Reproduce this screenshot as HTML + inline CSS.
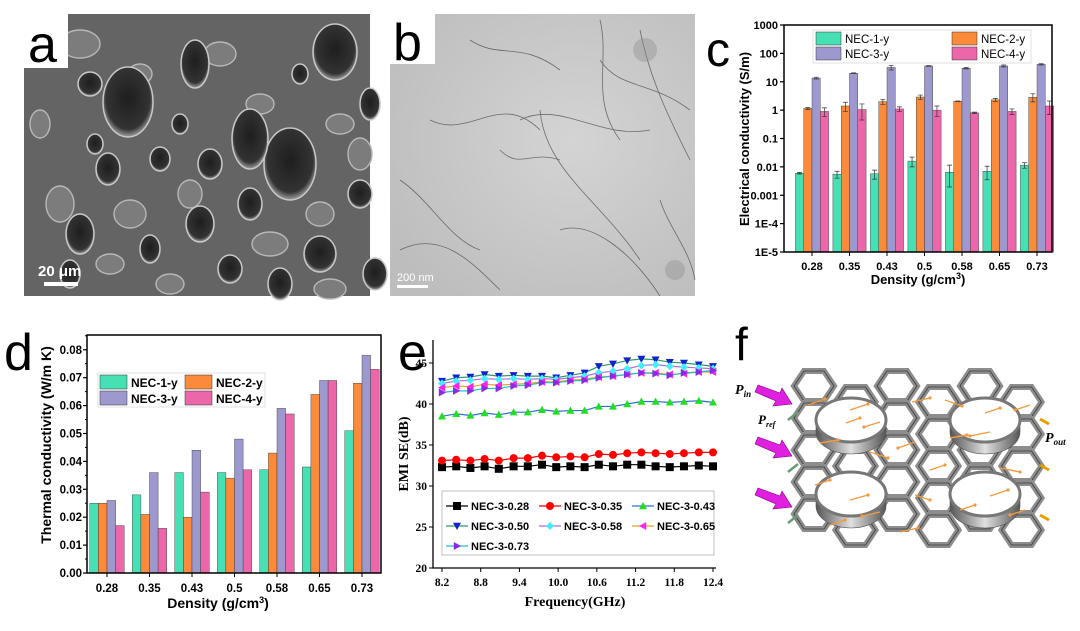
<!DOCTYPE html>
<html><head><meta charset="utf-8">
<style>
html,body{margin:0;padding:0;background:#fff;}
body{width:1080px;height:626px;overflow:hidden;font-family:"Liberation Sans",sans-serif;}
svg text{font-family:"Liberation Sans",sans-serif;}
svg text.serif{font-family:"Liberation Serif",serif;}
</style></head>
<body>
<svg id="fig" width="1080" height="626" viewBox="0 0 1080 626" xmlns="http://www.w3.org/2000/svg">
<defs>
<radialGradient id="pore" cx="50%" cy="45%" r="55%"><stop offset="0" stop-color="#1e1e1e"/><stop offset="0.8" stop-color="#333"/><stop offset="1" stop-color="#a0a0a0"/></radialGradient>
<radialGradient id="tem" cx="60%" cy="45%" r="70%"><stop offset="0" stop-color="#d4d4d4"/><stop offset="1" stop-color="#bdbdbd"/></radialGradient>
<linearGradient id="ring" x1="0" x2="1"><stop offset="0" stop-color="#555"/><stop offset="0.5" stop-color="#e0e0e0"/><stop offset="1" stop-color="#555"/></linearGradient>
</defs>

<g>
<rect x="24" y="14" width="346" height="282" fill="#646464"/>
<g id="pores"></g>
<rect x="24" y="14" width="44" height="54" fill="#fff"/>
<text x="28" y="62" font-size="52" fill="#000">a</text>
<text x="38" y="276" font-size="15" font-weight="bold" fill="#fff">20 μm</text>
<rect x="44" y="282" width="34" height="4" fill="#fff"/>
</g>

<g>
<rect x="390" y="14" width="305" height="282" fill="url(#tem)"/>
<g id="tubes" stroke="#444" stroke-width="0.8" fill="none" opacity="0.7"></g>
<rect x="390" y="14" width="45" height="50" fill="#fff"/>
<text x="393" y="60" font-size="52" fill="#000">b</text>
<text x="397" y="281" font-size="11" fill="#fff">200 nm</text>
<rect x="397" y="285" width="31" height="3" fill="#fff"/>
</g>

<text x="706" y="66" font-size="48" fill="#000">c</text>
<g id="chartC"></g>
<text x="4" y="370" font-size="52" fill="#000">d</text>
<g id="chartD"></g>
<text x="398" y="370" font-size="52" fill="#000">e</text>
<g id="chartE"></g>
<text x="735" y="360" font-size="46" fill="#000">f</text>
<g id="schem"></g>
</svg>

<script>
const NS="http://www.w3.org/2000/svg";
function mk(p,tag,a){const e=document.createElementNS(NS,tag);for(const k in a)e.setAttribute(k,a[k]);p.appendChild(e);return e;}

const densities=["0.28","0.35","0.43","0.5","0.58","0.65","0.73"];
const seriesNames=["NEC-1-y","NEC-2-y","NEC-3-y","NEC-4-y"];
const barColors=["#46e0b4","#fb8b3b","#9d99cf","#ec66aa"];
const ecNEC1=[0.006,0.0055,0.0057,0.016,0.0065,0.007,0.0115];
const ecNEC2=[1.15,1.4,2.0,2.9,2.05,2.3,2.85];
const ecNEC3=[13.5,20,32,36,30,36,41];
const ecNEC4=[0.9,1.05,1.1,1.0,0.8,0.9,1.4];
const ecErr1=[0.0004,0.0015,0.002,0.006,0.005,0.0035,0.0025];
const ecErr2=[0.1,0.5,0.4,0.5,0.05,0.3,0.9];
const ecErr3=[1,0.5,6,1,1.5,3,2];
const ecErr4=[0.3,0.6,0.2,0.4,0.05,0.2,0.7];
const cTicks=["1E-5","1E-4","0.001","0.01","0.1","1","10","100","1000"];
const tcNEC1=[0.025,0.028,0.036,0.036,0.037,0.038,0.051];
const tcNEC2=[0.025,0.021,0.020,0.034,0.043,0.064,0.068];
const tcNEC3=[0.026,0.036,0.044,0.048,0.059,0.069,0.078];
const tcNEC4=[0.017,0.016,0.029,0.037,0.057,0.069,0.073];
const dTicks=["0.00","0.01","0.02","0.03","0.04","0.05","0.06","0.07","0.08"];
const freqs=[8.2,8.42,8.64,8.86,9.08,9.31,9.53,9.75,9.97,10.19,10.41,10.63,10.85,11.07,11.29,11.51,11.73,11.95,12.18,12.4];
const se028=[32.3,32.4,32.2,32.4,32.1,32.4,32.4,32.6,32.3,32.4,32.3,32.6,32.4,32.6,32.6,32.4,32.3,32.4,32.5,32.4];
const se035=[33.1,33.2,33.1,33.3,33.1,33.4,33.4,33.7,33.5,33.6,33.5,33.9,33.8,34.0,34.1,34.0,33.9,34.0,34.1,34.1];
const se043=[38.5,38.8,38.6,38.9,38.7,39.0,39.0,39.3,39.1,39.2,39.2,39.7,39.7,40.0,40.3,40.3,40.2,40.3,40.4,40.2];
const se050=[42.8,43.2,43.3,43.6,43.4,43.5,43.4,43.4,43.2,43.5,43.8,44.6,44.9,45.3,45.5,45.4,45.1,45.0,44.8,44.6];
const se058=[42.5,42.8,42.9,43.1,43.0,43.1,43.0,43.1,43.0,43.2,43.4,43.8,44.0,44.3,44.7,44.8,44.6,44.5,44.4,44.3];
const se065=[42.0,42.2,42.1,42.4,42.3,42.4,42.5,42.7,42.7,42.9,43.0,43.3,43.4,43.6,43.8,43.8,43.6,43.7,43.9,43.9];
const se073=[41.4,41.6,41.6,41.9,41.9,42.2,42.3,42.6,42.6,42.8,42.9,43.2,43.4,43.6,43.8,43.7,43.5,43.8,43.9,44.1];
const eXTicks=["8.2","8.8","9.4","10.0","10.6","11.2","11.8","12.4"];
const eYTicks=["20","25","30","35","40","45"];
const eNames=["NEC-3-0.28","NEC-3-0.35","NEC-3-0.43","NEC-3-0.50","NEC-3-0.58","NEC-3-0.65","NEC-3-0.73"];

(function(){
const g=document.getElementById('chartC');
const L=784,R=1052,T=25,B=252;
const y=v=>B-(Math.log10(v)+5)/8*(B-T);
const gx=i=>812+i*37.5;
const bw=8.3;
const data=[ecNEC1,ecNEC2,ecNEC3,ecNEC4], errs=[ecErr1,ecErr2,ecErr3,ecErr4];
data.forEach((s,k)=>s.forEach((v,i)=>{
 const x=gx(i)+(k-2)*bw;
 const r=mk(g,'rect',{x:x,y:y(v),width:bw,height:B-y(v),fill:barColors[k],stroke:'#333','stroke-width':0.4});
 
 
 const e=errs[k][i],cx=x+bw/2,y1=y(v+e),y0=y(Math.max(v-e,v*0.3));
 mk(g,'path',{d:`M${cx-2.5},${y1}H${cx+2.5}M${cx},${y1}V${y0}M${cx-2.5},${y0}H${cx+2.5}`,stroke:'#333','stroke-width':0.7,fill:'none'});
}));
mk(g,'rect',{x:L,y:T,width:R-L,height:B-T,fill:'none',stroke:'#000','stroke-width':1.5});
cTicks.forEach((t,i)=>{const yy=B-i*(B-T)/8;
 mk(g,'line',{x1:L-4,x2:L,y1:yy,y2:yy,stroke:'#000','stroke-width':1.2});
 const tx=mk(g,'text',{x:L-6,y:yy+4,'font-size':11,'font-weight':'bold','text-anchor':'end'});tx.textContent=t;
 
 });
densities.forEach((d,i)=>{mk(g,'line',{x1:gx(i),x2:gx(i),y1:B,y2:B+4,stroke:'#000'});
 const tx=mk(g,'text',{x:gx(i),y:B+18,'font-size':11,'font-weight':'bold','text-anchor':'middle'});tx.textContent=d;
 
 });
const xt=mk(g,'text',{x:918,y:284,'font-size':13,'font-weight':'bold','text-anchor':'middle'});xt.innerHTML='Density (g/cm<tspan dy="-5" font-size="9">3</tspan><tspan dy="5">)</tspan>';


const yt=mk(g,'text',{x:0,y:0,'font-size':13,'font-weight':'bold','text-anchor':'middle',transform:'translate(749,139) rotate(-90)'});yt.textContent='Electrical conductivity (S/m)';


const lg=mk(g,'g',{});


mk(lg,'rect',{x:813,y:30,width:218,height:33,fill:'#fff',stroke:'#ccc','stroke-width':0.6});
const pos=[[816,32],[952,32],[816,47],[952,47]];
seriesNames.forEach((n,k)=>{mk(lg,'rect',{x:pos[k][0],y:pos[k][1],width:25,height:13,fill:barColors[k],stroke:'#333','stroke-width':0.5});
 const t=mk(lg,'text',{x:pos[k][0]+29,y:pos[k][1]+11,'font-size':11.5});t.textContent=n;
 
 });
})();

(function(){
const g=document.getElementById('chartD');
const L=87,R=381,T=335,B=573;
const y=v=>B-v/0.01*27.9;
const gx=i=>107+i*42.5;
const bw=8.6;
const data=[tcNEC1,tcNEC2,tcNEC3,tcNEC4];
data.forEach((s,k)=>s.forEach((v,i)=>{
 const x=gx(i)+(k-2)*bw;
 const r=mk(g,'rect',{x:x,y:y(v),width:bw,height:B-y(v),fill:barColors[k],stroke:'#333','stroke-width':0.4});
 
 
}));
mk(g,'rect',{x:L,y:T,width:R-L,height:B-T,fill:'none',stroke:'#000','stroke-width':1.5});
dTicks.forEach((t,i)=>{const yy=y(i*0.01);
 mk(g,'line',{x1:L-4,x2:L,y1:yy,y2:yy,stroke:'#000','stroke-width':1.2});
 mk(g,'line',{x1:L-2,x2:L,y1:yy-14,y2:yy-14,stroke:'#000'});
 const tx=mk(g,'text',{x:L-5,y:yy+4,'font-size':11.5,'font-weight':'bold','text-anchor':'end'});tx.textContent=t;
 
 });
densities.forEach((d,i)=>{mk(g,'line',{x1:gx(i),x2:gx(i),y1:B,y2:B+4,stroke:'#000'});
 const tx=mk(g,'text',{x:gx(i),y:B+19,'font-size':11.5,'font-weight':'bold','text-anchor':'middle'});tx.textContent=d;
 
 });
const xt=mk(g,'text',{x:218,y:608,'font-size':14,'font-weight':'bold','text-anchor':'middle'});xt.innerHTML='Density (g/cm<tspan dy="-5" font-size="9">3</tspan><tspan dy="5">)</tspan>';


const yt=mk(g,'text',{x:0,y:0,'font-size':14,'font-weight':'bold','text-anchor':'middle',transform:'translate(51,445) rotate(-90)'});yt.textContent='Thermal conductivity (W/m K)';


const lg=mk(g,'g',{});


mk(lg,'rect',{x:98,y:373,width:167,height:34,fill:'#fff',stroke:'#ccc','stroke-width':0.6});
const pos=[[100,375],[185,375],[100,391],[185,391]];
seriesNames.forEach((n,k)=>{mk(lg,'rect',{x:pos[k][0],y:pos[k][1],width:27,height:14,fill:barColors[k],stroke:'#333','stroke-width':0.5});
 const t=mk(lg,'text',{x:pos[k][0]+31,y:pos[k][1]+12,'font-size':12,'font-weight':'bold'});t.textContent=n;
 
 });
})();

(function(){
const g=document.getElementById('chartE');
const L=433,R=716,T=340,B=568;
const x=f=>442+(f-8.2)/4.2*(713-442);
const y=v=>B-(v-20)/5*41;
const series=[se028,se035,se043,se050,se058,se065,se073];
const lineC=["#000","#e00","#2a6fd6","#2a9a6a","#b36be0","#e8a020","#1fbfd0"];
const mC=["#000","#f00","#2d2","#12c","#4ef","#f2e","#8a2be2"];
const shapes=["sq","ci","tu","td","di","tl","tr"];
function marker(p,s,cx,cy,c){const r=4;let e;
 if(s==='sq')e=mk(p,'rect',{x:cx-r,y:cy-r,width:2*r,height:2*r,fill:c});
 else if(s==='ci')e=mk(p,'circle',{cx:cx,cy:cy,r:r,fill:c});
 else{let pts;
  if(s==='tu')pts=[[0,-r],[r,r*.8],[-r,r*.8]];
  if(s==='td')pts=[[0,r],[r,-r*.8],[-r,-r*.8]];
  if(s==='di')pts=[[0,-r],[r,0],[0,r],[-r,0]];
  if(s==='tl')pts=[[-r,0],[r*.8,-r],[r*.8,r]];
  if(s==='tr')pts=[[r,0],[-r*.8,-r],[-r*.8,r]];
  e=mk(p,'polygon',{points:pts.map(q=>(cx+q[0])+','+(cy+q[1])).join(' '),fill:c});}
 return e;}
series.forEach((s,k)=>{
 const sg=mk(g,'g',{});
 
 
 mk(sg,'polyline',{points:s.map((v,i)=>x(freqs[i])+','+y(v)).join(' '),fill:'none',stroke:lineC[k],'stroke-width':1.2});
 s.forEach((v,i)=>marker(sg,shapes[k],x(freqs[i]),y(v),mC[k]));
});
mk(g,'path',{d:`M${L},${T}V${B}H${R}`,fill:'none',stroke:'#000','stroke-width':1.3});
eYTicks.forEach(t=>{const yy=y(+t);mk(g,'line',{x1:L-4,x2:L,y1:yy,y2:yy,stroke:'#000'});
 const tx=mk(g,'text',{x:L-6,y:yy+4,'font-size':11.5,'font-weight':'bold','text-anchor':'end',class:'serif'});tx.textContent=t;
 
 });
eXTicks.forEach(t=>{const xx=x(+t);mk(g,'line',{x1:xx,x2:xx,y1:B,y2:B+4,stroke:'#000'});
 const tx=mk(g,'text',{x:xx,y:B+18,'font-size':11.5,'font-weight':'bold','text-anchor':'middle',class:'serif'});tx.textContent=t;
 
 });
const xt=mk(g,'text',{x:575,y:606,'font-size':14,'font-weight':'bold','text-anchor':'middle',class:'serif'});xt.textContent='Frequency(GHz)';


const yt=mk(g,'text',{x:0,y:0,'font-size':14,'font-weight':'bold','text-anchor':'middle',class:'serif',transform:'translate(408,454) rotate(-90)'});yt.textContent='EMI SE(dB)';


const lg=mk(g,'g',{});


mk(lg,'rect',{x:442,y:491,width:272,height:64,fill:'#fff',stroke:'#999','stroke-width':0.6});
eNames.forEach((n,k)=>{const cx=446+(k%3)*93,cy=506+Math.floor(k/3)*20;
 mk(lg,'line',{x1:cx,x2:cx+22,y1:cy,y2:cy,stroke:lineC[k],'stroke-width':1.2});
 marker(lg,shapes[k],cx+11,cy,mC[k]);
 const t=mk(lg,'text',{x:cx+25,y:cy+4,'font-size':11,'font-weight':'bold'});t.textContent=n;
 
 });
})();

(function(){
const g=document.getElementById('pores');
const Q=[[110,200,16,14],[320,110,14,10],[250,230,18,12],[40,190,14,18],[150,270,14,10],[60,30,20,14],[200,40,16,12],[300,200,14,12],[120,60,12,10],[340,140,12,16],[20,110,10,14],[240,90,14,10],[170,180,12,14],[90,250,14,10],[310,275,16,10]];
Q.forEach(p=>mk(g,'ellipse',{cx:p[0]+20,cy:p[1]+14,rx:p[2],ry:p[3],fill:'#7c7c7c',stroke:'#b8b8b8','stroke-width':1.4}));
const P=[[175,50,14,24],[108,88,25,35],[270,150,26,36],[230,125,18,30],[190,150,12,15],[315,38,22,28],[350,90,10,16],[70,70,12,12],[88,155,12,16],[140,145,10,12],[180,210,14,18],[230,190,12,16],[260,270,12,16],[60,220,14,20],[50,260,10,14],[300,240,16,18],[355,260,12,16],[130,235,10,14],[210,255,12,14],[340,180,12,14],[75,130,8,10],[280,60,8,10],[160,110,8,10]];
P.forEach(p=>mk(g,'ellipse',{cx:p[0]+20,cy:p[1]+14,rx:p[2],ry:p[3],fill:'url(#pore)',stroke:'#c8c8c8','stroke-width':1.5}));
const t=document.getElementById('tubes');
['M520,120 C560,100 600,140 650,130','M540,110 C545,170 600,200 640,260','M400,250 C440,230 470,260 500,290','M600,60 C620,90 650,80 690,110','M430,120 C470,140 500,90 540,130','M560,230 C590,220 630,250 660,296','M470,40 C500,60 520,40 560,70','M640,30 C650,80 670,120 690,160','M400,180 C430,200 450,240 480,250','M500,150 C520,170 530,150 560,160','M600,20 C610,60 590,100 620,140','M660,200 C670,230 690,250 695,280'].forEach(d=>mk(t,'path',{d:d}));
mk(t,'circle',{cx:645,cy:50,r:12,fill:'#777',stroke:'none',opacity:0.4});
mk(t,'circle',{cx:675,cy:270,r:10,fill:'#777',stroke:'none',opacity:0.4});
})();

(function(){
const g=document.getElementById('schem');
function hex(cx,cy,w,h){const a=w/2,b=h/2,c=w/4;return `M${cx-a},${cy} L${cx-c},${cy-b} L${cx+c},${cy-b} L${cx+a},${cy} L${cx+c},${cy+b} L${cx-c},${cy+b}Z`;}
for(let col=0;col<6;col++){for(let row=0;row<6;row++){
 const cx=814+col*41.5,cy=386+row*32+(col%2?16:0);
 if(cy>545)continue;
 mk(g,'path',{d:hex(cx,cy,40,30),fill:'none',stroke:'#8d8d8d','stroke-width':6});
 mk(g,'path',{d:hex(cx,cy,40,30),fill:'none',stroke:'#3a3a3a','stroke-width':0.8});
}}
[[851,420],[985,420],[851,494],[985,494]].forEach(c=>{
 mk(g,'path',{d:`M${c[0]-35},${c[1]} V${c[1]+12} A35,22 0 0 0 ${c[0]+35},${c[1]+12} V${c[1]}Z`,fill:'url(#ring)',stroke:'#555','stroke-width':0.6});
 mk(g,'ellipse',{cx:c[0],cy:c[1],rx:35,ry:22,fill:'#fff',stroke:'#777','stroke-width':3});
});
const arrows=[[808,405,825,399],[850,410,868,404],[846,423,860,418],[880,422,864,427],[912,402,930,398],[915,442,898,448],[945,400,962,406],[950,438,967,435],[985,413,1000,408],[990,432,970,436],[1030,405,1015,410],[820,443,838,440],[870,452,888,458],[930,470,945,465],[1000,468,1020,472],[815,485,830,480],[850,500,868,495],[880,512,862,516],[915,495,930,500],[960,510,975,505],[990,496,1008,490],[1025,510,1010,515],[830,525,845,520],[900,532,918,528]];
arrows.forEach(a=>{mk(g,'line',{x1:a[0],y1:a[1],x2:a[2],y2:a[3],stroke:'#f39a40','stroke-width':1.4});
 mk(g,'circle',{cx:a[2],cy:a[3],r:1.6,fill:'#f39a40'});});
[[758,385],[758,437],[758,488]].forEach(p=>{
 mk(g,'polygon',{points:`${p[0]},${p[1]} ${p[0]+22},${p[1]+8} ${p[0]+24},${p[1]+3} ${p[0]+34},${p[1]+19} ${p[0]+15},${p[1]+21} ${p[0]+18},${p[1]+16} ${p[0]-3},${p[1]+7}`,fill:'#e020e0',stroke:'#800080','stroke-width':0.6});
 mk(g,'line',{x1:p[0]+40,y1:p[1]+27,x2:p[0]+30,y2:p[1]+35,stroke:'#6a9a7a','stroke-width':2.5});
});
[[1040,419],[1040,465],[1040,515]].forEach(p=>mk(g,'line',{x1:p[0],y1:p[1],x2:p[0]+9,y2:p[1]+5,stroke:'#e0a000','stroke-width':3}));
const t1=mk(g,'text',{x:735,y:394,'font-size':14,'font-style':'italic','font-weight':'bold',class:'serif'});t1.innerHTML='P<tspan font-size="9" dy="3">in</tspan>';


const t2=mk(g,'text',{x:758,y:424,'font-size':13,'font-style':'italic','font-weight':'bold',class:'serif'});t2.innerHTML='P<tspan font-size="8" dy="3">ref</tspan>';


const t3=mk(g,'text',{x:1045,y:442,'font-size':14,'font-style':'italic','font-weight':'bold',class:'serif'});t3.innerHTML='P<tspan font-size="9" dy="3">out</tspan>';


})();
</script>
</body></html>
